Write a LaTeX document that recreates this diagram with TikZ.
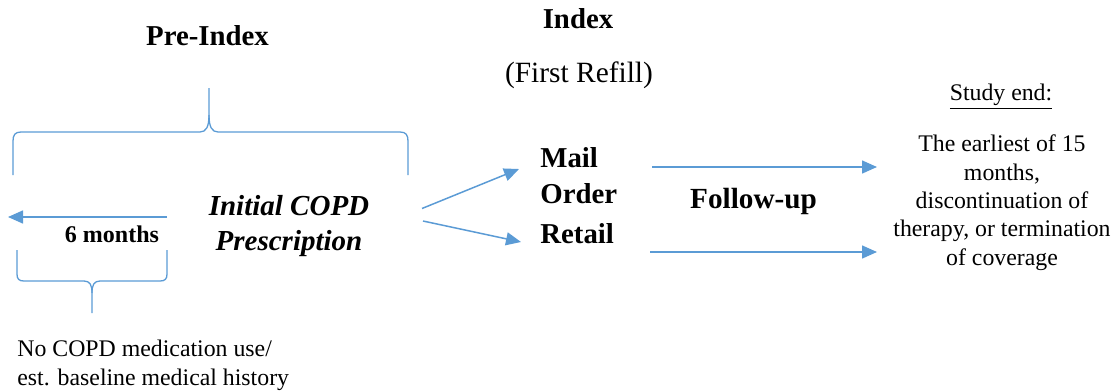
\documentclass[tikz,border=0pt]{standalone}
\usepackage{fontspec}
\setmainfont{Liberation Serif}
\usetikzlibrary{arrows.meta,positioning}
\definecolor{lineblue}{HTML}{5B9BD5}

\begin{document}
\begin{tikzpicture}[x=0.5pt,y=-0.5pt]
  \tikzset{headtext/.style = {inner sep=0pt,anchor=base,font=\fontsize{14.4}{18}\selectfont\bfseries}}
  \tikzset{bodytext/.style = {inner sep=0pt,anchor=base,font=\fontsize{11.9}{14.15}\selectfont}}
  \tikzset{brace/.style = {draw=lineblue,line width=0.65pt}}
  \tikzset{%
  tipA/.tip={Triangle[length=7.5pt,width=6.5pt]},
}
  \tikzset{edge/.style = {draw=lineblue,line width=0.75pt,-tipA}}

  \useasboundingbox (0,0) rectangle (1120,391);

	\node[headtext] (preindex) at (207.5,46) {Pre-Index};
	\node[headtext] (index) at (578,28) {Index};
	\node[bodytext,font=\fontsize{14.7}{17}\selectfont] (refill) at (579,82) {(First Refill)};
	\node[headtext,font=\fontsize{14.5}{17.5}\selectfont\bfseries\itshape,align=center] (initial) at (289,250) {Initial COPD\\Prescription};
	\node[headtext,anchor=base west,align=left] (mail) at (540,203) {Mail\\Order};
	\node[headtext,anchor=base west] (retail) at (540,243) {Retail};
	\node[headtext,font=\fontsize{14.6}{18}\selectfont\bfseries] (followup) at (753.5,208) {Follow-up};
	\node[headtext,font=\fontsize{12}{14}\selectfont\bfseries] (months) at (112,242) {6 months};
	\node[bodytext] (studyend) at (1001,100) {\underline{Study end:}};
	\node[bodytext,align=center] (criteria) at (1002,265) {The earliest of 15\\months,\\discontinuation of\\therapy, or termination\\of coverage};
	\node[bodytext,anchor=base west,align=left] (history) at (17,385) {No COPD medication use/\\est. baseline medical history};

	\coordinate (lookback) at (167,217);
	\coordinate (window) at (8,217);
	\coordinate (splitA) at (422,208.5);
	\coordinate (mailin) at (519,169);
	\coordinate (splitB) at (423,221);
	\coordinate (retailin) at (521,242);
	\coordinate (mailout) at (652,167);
	\coordinate (mailend) at (877,167);
	\coordinate (retailout) at (650,252);
	\coordinate (retailend) at (877,252);

	% braces
	\draw[brace] (13,175) -- (13,141) .. controls (13,135) and (15,132) .. (21,132) -- (200,132)
	  .. controls (206,132) and (209,127) .. (209,115) -- (209,88);
	\draw[brace] (209,115) .. controls (209,127) and (212,132) .. (218,132) -- (400,132)
	  .. controls (406,132) and (408,135) .. (408,141) -- (408,175);
	\draw[brace] (17,250) -- (17,274) .. controls (17,279) and (19,281) .. (24,281) -- (84,281)
	  .. controls (90,281) and (92,285) .. (92,293) -- (92,313);
	\draw[brace] (92,293) .. controls (92,285) and (94,281) .. (100,281) -- (160,281)
	  .. controls (165,281) and (167,279) .. (167,274) -- (167,250);

    \foreach \from/\to in {lookback/window,splitA/mailin,splitB/retailin,mailout/mailend,retailout/retailend}
    \draw[edge] (\from) -- (\to);

\end{tikzpicture}
\end{document}
